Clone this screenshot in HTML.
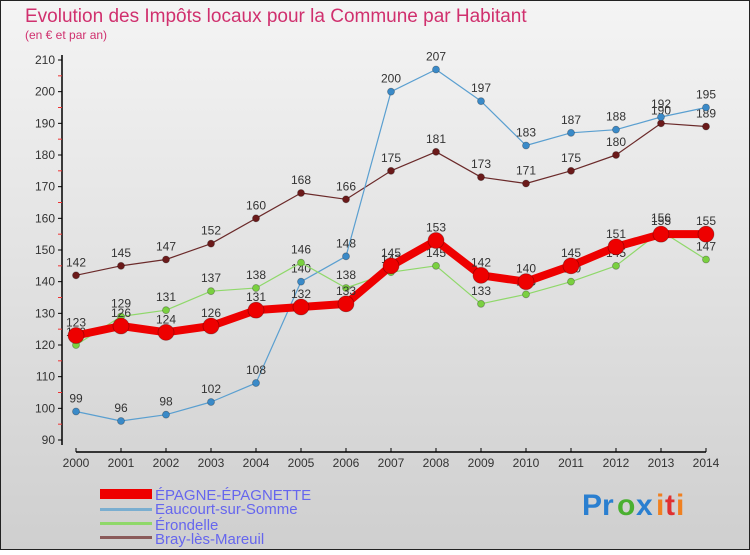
<!DOCTYPE html>
<html><head><meta charset="utf-8"><style>
body{margin:0;width:750px;height:550px;overflow:hidden;font-family:"Liberation Sans","DejaVu Sans",sans-serif}
svg text{font-family:"Liberation Sans",sans-serif}
</style></head><body>
<svg id="c" width="750" height="550" xmlns="http://www.w3.org/2000/svg">
<defs><linearGradient id="bg" x1="0" y1="0" x2="0" y2="1"><stop offset="0" stop-color="#f4f4f4"/><stop offset="1" stop-color="#cfcfcf"/></linearGradient></defs>
<rect x="0.5" y="0.5" width="749" height="549" fill="url(#bg)" stroke="#222"/>
<text x="25" y="22" font-size="19" fill="#d0306e">Evolution des Impôts locaux pour la Commune par Habitant</text>
<text x="25" y="39" font-size="12" fill="#d0306e">(en € et par an)</text>
<g id="axes"></g><g id="series"></g>
<g>
<rect x="100" y="489" width="52" height="10" fill="#e00"/>
<rect x="100" y="508" width="52" height="3" fill="#7aaed0"/>
<rect x="100" y="522" width="52" height="3" fill="#8fd86a"/>
<rect x="100" y="536" width="52" height="3" fill="#8a5a5a"/>
<text x="155" y="500" font-size="15" fill="#6666ee">ÉPAGNE-ÉPAGNETTE</text>
<text x="155" y="514" font-size="15" fill="#6666ee">Eaucourt-sur-Somme</text>
<text x="155" y="530" font-size="15" fill="#6666ee">Érondelle</text>
<text x="155" y="544" font-size="15" fill="#6666ee">Bray-lès-Mareuil</text>
</g>
<g font-size="30" font-weight="bold">
<text x="582" y="515" fill="#2a7fd0">Pr</text><text x="617" y="515" fill="#4ab030">o</text><text x="636" y="515" fill="#2a7fd0">x</text><text x="656" y="515" fill="#f08020">i</text><text x="665" y="515" fill="#e03030">t</text><text x="676" y="515" fill="#f08020">i</text>
</g>
</svg>
<script>
const years=[2000,2001,2002,2003,2004,2005,2006,2007,2008,2009,2010,2011,2012,2013,2014];
const epagne=[123,126,124,126,131,132,133,145,153,142,140,145,151,155,155];
const eaucourt=[99,96,98,102,108,140,148,200,207,197,183,187,188,192,195];
const erondelle=[120,129,131,137,138,146,138,143,145,133,136,140,145,156,147];
const bray=[142,145,147,152,160,168,166,175,181,173,171,175,180,190,189];
const yTicks=[90,100,110,120,130,140,150,160,170,180,190,200,210];
const NS="http://www.w3.org/2000/svg";
const x=i=>76+i*45;
const y=v=>440-(v-90)*380/120;
function mk(tag,attrs,parent){const e=document.createElementNS(NS,tag);for(const k in attrs)e.setAttribute(k,attrs[k]);parent.appendChild(e);return e;}
const ax=document.getElementById('axes');
let l=mk('line',{x1:62,y1:55,x2:62,y2:445,stroke:'#000','stroke-width':1.5},ax);


l=mk('line',{x1:76,y1:452,x2:706,y2:452,stroke:'#000','stroke-width':1.5},ax);


yTicks.forEach(v=>{
 mk('line',{x1:58,y1:y(v),x2:62,y2:y(v),stroke:'#000'},ax);
 const t=mk('text',{x:55,y:y(v)+4,'font-size':12,'text-anchor':'end',fill:'#333'},ax);
 
 
 t.textContent=v;
 if(v<210) mk('line',{x1:58,y1:y(v+5),x2:62,y2:y(v+5),stroke:'#e33'},ax);
});
years.forEach((yr,i)=>{
 mk('line',{x1:x(i),y1:448,x2:x(i),y2:452,stroke:'#000'},ax);
 const t=mk('text',{x:x(i),y:467,'font-size':12,'text-anchor':'middle',fill:'#333'},ax);
 
 
 t.textContent=yr;
});
const sg=document.getElementById('series');
function series(name,data,color,w,r,dot){
 const g=mk('g',{},sg);
 
 
 const p=mk('polyline',{points:data.map((v,i)=>x(i)+','+y(v)).join(' '),fill:'none',stroke:color,'stroke-width':w,'stroke-linejoin':'round'},g);
 
 
 data.forEach((v,i)=>{
  const c=mk('circle',{cx:x(i),cy:y(v),r:r,fill:dot,stroke:'rgba(0,0,0,0.3)','stroke-width':0.8},g);
  
  
  const t=mk('text',{x:x(i),y:y(v)-9,'font-size':12,'text-anchor':'middle',fill:'#333'},g);
  
  
  t.textContent=v;
 });
}
series('bray',bray,'#6b2a2a',1.2,3.5,'#6b1a1a');
series('eaucourt',eaucourt,'#5a9fd0',1.2,3.5,'#3a8ac8');
series('erondelle',erondelle,'#8fd86a',1.2,3.5,'#7ad040');
series('epagne',epagne,'#ee0000',8,8,'#ee0000');
</script>
</body></html>
